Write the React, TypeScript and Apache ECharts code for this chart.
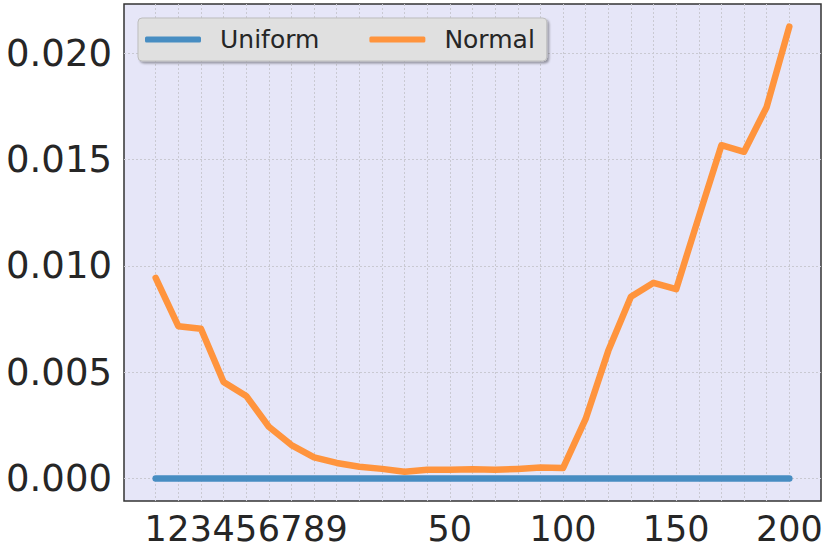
import React, { useEffect, useRef } from "react";
import * as echarts from "echarts";

const categories: string[] = [
  "1", "2", "3", "4", "5", "6", "7", "8", "9",
  "10", "20", "30", "40", "50", "60", "70", "80", "90", "100",
  "110", "120", "130", "140", "150", "160", "170", "180", "190", "200",
];
const shownLabels: string[] = ["1", "2", "3", "4", "5", "6", "7", "8", "9", "50", "100", "150", "200"];

const uniformValues: number[] = [
  0, 0, 0, 0, 0, 0, 0, 0, 0, 0, 0, 0, 0, 0, 0, 0, 0, 0, 0, 0, 0, 0, 0, 0, 0, 0, 0, 0, 0,
];
const normalValues: number[] = [
  0.00943, 0.00716, 0.00704, 0.00454, 0.00388, 0.00243, 0.00157, 0.00099, 0.00073,
  0.00055, 0.00045, 0.00032, 0.00041, 0.00041, 0.00043, 0.00041, 0.00045, 0.00051, 0.00049,
  0.0028, 0.0060, 0.00854, 0.0092, 0.0089, 0.0123, 0.01567, 0.01536, 0.01747, 0.02125,
];
const yTicks: number[] = [0, 0.005, 0.01, 0.015, 0.02];

export default function App() {
  const ref = useRef<HTMLDivElement>(null);
  useEffect(() => {
    if (!ref.current) return;
    const chart = echarts.init(ref.current, undefined, { renderer: "svg" });
    const idx = categories.map((_, i) => i);
    const labelIdx = shownLabels.map((l) => categories.indexOf(l));
    const font = "DejaVu Sans";
    chart.setOption({
      animation: false,
      legend: {
        left: 138,
        top: 18,
        orient: "horizontal",
        padding: [9, 12, 9, 7],
        itemGap: 50,
        itemWidth: 56,
        itemHeight: 6,
        icon: "roundRect",
        backgroundColor: "#e0e0e0",
        borderColor: "#bdbdbd",
        borderWidth: 1,
        borderRadius: 4,
        shadowColor: "rgba(0,0,0,0.35)",
        shadowOffsetX: 2,
        shadowOffsetY: 2,
        shadowBlur: 2,
        textStyle: {
          fontFamily: font,
          fontSize: 25,
          color: "#262626",
          padding: [0, 0, 0, 14],
        },
        data: ["Uniform", "Normal"],
      },
      grid: {
        left: 124,
        top: 4,
        right: 9,
        bottom: 53,
        show: true,
        backgroundColor: "#e6e6f8",
        borderColor: "#333333",
        borderWidth: 1.5,
      },
      xAxis: {
        type: "value",
        min: -1.4,
        max: 29.4,
        axisLine: { show: false },
        axisTick: { show: false, customValues: idx },
        splitLine: {
          show: true,
          lineStyle: { color: "#c9c9d2", type: [2, 2], width: 1 },
        },
        axisLabel: {
          customValues: labelIdx,
          showMinLabel: true,
          showMaxLabel: true,
          hideOverlap: false,
          formatter: (v: number) => categories[Math.round(v)] ?? "",
          fontFamily: font,
          fontSize: 35,
          color: "#262626",
          margin: 10,
        },
      },
      yAxis: {
        type: "value",
        min: -0.00106,
        max: 0.02231,
        axisLine: { show: false },
        axisTick: { show: false, customValues: yTicks },
        splitLine: {
          show: true,
          lineStyle: { color: "#c9c9d2", type: [2, 2], width: 1 },
        },
        axisLabel: {
          customValues: yTicks,
          showMinLabel: true,
          showMaxLabel: true,
          formatter: (v: number) => v.toFixed(3),
          fontFamily: font,
          fontSize: 37,
          color: "#262626",
          margin: 12,
        },
      },
      series: [
        {
          name: "Uniform",
          type: "line",
          data: uniformValues.map((v, i) => [i, v]),
          showSymbol: false,
          itemStyle: { color: "#478dc2" },
          lineStyle: { color: "#478dc2", width: 6.5, cap: "round", join: "round" },
        },
        {
          name: "Normal",
          type: "line",
          data: normalValues.map((v, i) => [i, v]),
          showSymbol: false,
          itemStyle: { color: "#ff943d" },
          lineStyle: { color: "#ff943d", width: 6.5, cap: "round", join: "round" },
        },
      ],
    });
    return () => chart.dispose();
  }, []);
  return <div ref={ref} style={{ width: 830, height: 554, position: "absolute", left: 0, top: 0 }} />;
}
